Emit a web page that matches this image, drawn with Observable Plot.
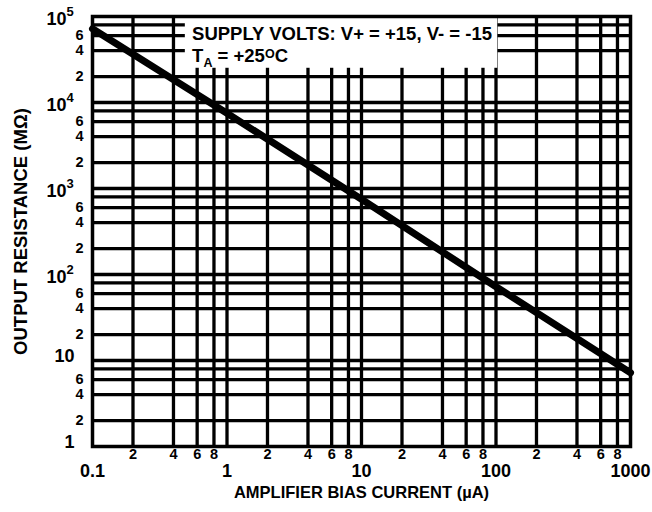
<!DOCTYPE html>
<html>
<head>
<meta charset="utf-8">
<script src="https://cdn.jsdelivr.net/npm/d3@7"></script>
<script src="https://cdn.jsdelivr.net/npm/@observablehq/plot@0.6"></script>
<style>
  html, body { margin: 0; padding: 0; background: #fff; }
  #chart { position: absolute; left: 0; top: 0; }
</style>
</head>
<body>
<div id="chart"></div>
<script>
// ---- data ----
const biasCurrent = [0.1, 1, 10, 100, 1000];              // µA
const outputResistance = [72000, 7500, 750, 72, 7.2];     // MΩ

// grid lines
const xGridValues = [0.2, 0.4, 0.6, 0.8, 1, 2, 4, 6, 8, 10, 20, 40, 60, 80, 100, 200, 400, 600, 800];
const yGridValues = [2, 4, 6, 8, 10, 20, 40, 60, 80, 100, 200, 400, 600, 800, 1000,
                     2000, 4000, 6000, 8000, 10000, 20000, 40000, 60000, 80000];

// tick labels
const xMinorTicks  = [0.2, 0.4, 0.6, 0.8, 2, 4, 6, 8, 20, 40, 60, 80, 200, 400, 600, 800];
const xMinorLabels = ["2", "4", "6", "8", "2", "4", "6", "8", "2", "4", "6", "8", "2", "4", "6", "8"];
const xDecadeTicks  = [0.1, 1, 10, 100, 1000];
const xDecadeLabels = ["0.1", "1", "10", "100", "1000"];

const yMinorTicks  = [2, 4, 6, 20, 40, 60, 200, 400, 600, 2000, 4000, 6000, 20000, 40000, 60000];
const yMinorLabels = ["2", "4", "6", "2", "4", "6", "2", "4", "6", "2", "4", "6", "2", "4", "6"];
const yPowerTicks     = [100, 1000, 10000, 100000];
const yPowerBase      = ["10", "10", "10", "10"];
const yPowerExponents = ["2", "3", "4", "5"];
const yPlainTicks  = [1, 10];
const yPlainLabels = ["1", "10"];

const xTitle = "AMPLIFIER BIAS CURRENT (\u00B5A)";
const yTitle = "OUTPUT RESISTANCE (M\u03A9)";
const noteLines = ["SUPPLY VOLTS: V+ = +15, V- = -15", "TA = +25OC"];

// ---- chart ----
const font = "'Liberation Sans', Arial, Helvetica, sans-serif";
const curve = biasCurrent.map((x, i) => ({x, y: outputResistance[i]}));
const txt = {fill: "black", fontFamily: font, fontWeight: "bold"};

const chart = Plot.plot({
  width: 652,
  height: 512,
  marginLeft: 92,
  marginRight: 22,
  marginTop: 16,
  marginBottom: 66,
  x: {type: "log", domain: [0.1, 1000], axis: null},
  y: {type: "log", domain: [1, 1e5], axis: null},
  style: {background: "white", overflow: "visible", fontFamily: font},
  marks: [
    Plot.ruleX(xGridValues, {x: d => d, stroke: "black", strokeWidth: 3.3}),
    Plot.ruleY(yGridValues, {y: d => d, stroke: "black", strokeWidth: 3.3}),
    // annotation box
    Plot.rect([noteLines[0]], {x1: () => 0.49, x2: () => 103, y1: () => 25000, y2: () => 1e5, fill: "white"}),
    Plot.text([noteLines[0]], {x: () => 0.55, y: () => 62000, text: d => d, textAnchor: "start", fontSize: 18.5, ...txt}),
    Plot.text([noteLines[1]], {x: () => 0.55, y: () => 35000, text: d => d, textAnchor: "start", fontSize: 18.5, ...txt}),
    // data curve
    Plot.line(curve, {x: "x", y: "y", stroke: "black", strokeWidth: 7}),
    Plot.frame({stroke: "black", strokeWidth: 3.5}),
    // x tick labels
    Plot.text(xMinorTicks, {x: d => d, frameAnchor: "bottom", dy: 12, text: (d, i) => xMinorLabels[i], fontSize: 14.5, ...txt}),
    Plot.text(xDecadeTicks, {x: d => d, frameAnchor: "bottom", dy: 30, text: (d, i) => xDecadeLabels[i], fontSize: 18, ...txt}),
    // y tick labels
    Plot.text(yMinorTicks, {y: d => d, frameAnchor: "left", dx: -9, textAnchor: "end", text: (d, i) => yMinorLabels[i], fontSize: 14.5, ...txt}),
    Plot.text(yPlainTicks, {y: d => d, frameAnchor: "left", dx: -18, dy: -4, textAnchor: "end", text: (d, i) => yPlainLabels[i], fontSize: 18, ...txt}),
    Plot.text(yPowerTicks, {y: d => d, frameAnchor: "left", dx: -26, dy: 3, textAnchor: "end", text: (d, i) => yPowerBase[i], fontSize: 18, ...txt}),
    Plot.text(yPowerTicks, {y: d => d, frameAnchor: "left", dx: -26, dy: -5, textAnchor: "start", text: (d, i) => yPowerExponents[i], fontSize: 13, ...txt}),
    // axis titles
    Plot.text([xTitle], {frameAnchor: "bottom", dy: 51, textAnchor: "middle", text: d => d, fontSize: 16.5, ...txt}),
    Plot.text([yTitle], {frameAnchor: "left", dx: -71, rotate: -90, textAnchor: "middle", text: d => d, fontSize: 18.5, ...txt})
  ]
});

// subscript / superscript in the temperature note
d3.select(chart).selectAll("text").each(function () {
  if (this.textContent === noteLines[1]) {
    const t = d3.select(this);
    t.text(null);
    t.append("tspan").text("T");
    t.append("tspan").attr("dy", 5).attr("font-size", 12.5).text("A");
    t.append("tspan").attr("dy", -5).text(" = +25");
    t.append("tspan").attr("dy", -4).attr("font-size", 12.5).text("O");
    t.append("tspan").attr("dy", 4).text("C");
  }
});

document.getElementById("chart").appendChild(chart);
</script>
</body>
</html>
